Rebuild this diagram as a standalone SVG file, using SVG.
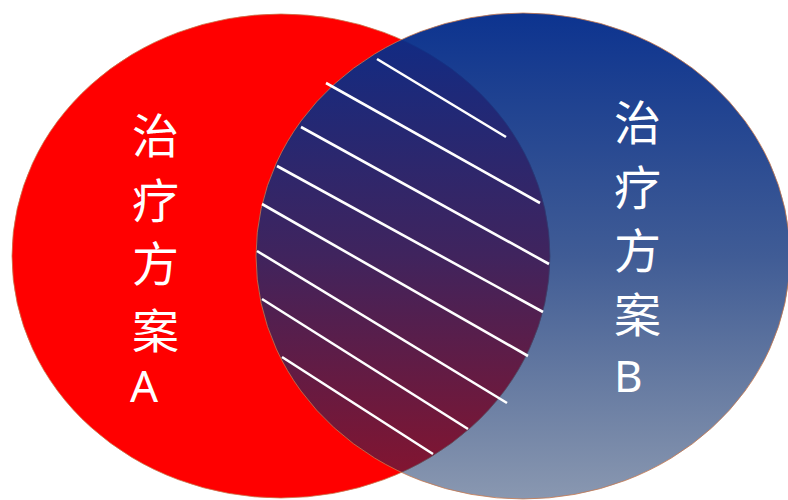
<svg xmlns="http://www.w3.org/2000/svg" width="788" height="500" viewBox="0 0 788 500">
  <style>
    .lbl { font-family: "Noto Sans CJK SC", "Noto Sans", sans-serif; font-size: 47px; fill: #ffffff; dominant-baseline: central; }
    .lat { font-family: "Noto Sans", "Noto Sans CJK SC", sans-serif; font-size: 44px; fill: #ffffff; }
    .hatch { stroke: #ffffff; stroke-width: 2.6; stroke-linecap: butt; }
    .edge { stroke: #c8784e; stroke-width: 0.8; }
  </style>
  <defs>
    <linearGradient id="gB" x1="0" y1="0" x2="0" y2="1">
      <stop offset="0" stop-color="#052d8c" stop-opacity="0.97"/>
      <stop offset="0.5" stop-color="#0a2e78" stop-opacity="0.78"/>
      <stop offset="1" stop-color="#0a285c" stop-opacity="0.48"/>
    </linearGradient>
  </defs>
  <rect width="788" height="500" fill="#ffffff"/>
  <g id="setA">
    <ellipse class="edge" cx="281" cy="256" rx="269" ry="242" fill="#ff0000"/>
  </g>
  <g id="setB">
    <ellipse class="edge" cx="523" cy="256" rx="267" ry="243" fill="url(#gB)"/>
  </g>
  <g id="hatching">
    <line class="hatch" x1="377" y1="59" x2="506" y2="137"/>
    <line class="hatch" x1="326" y1="83" x2="540" y2="203"/>
    <line class="hatch" x1="301" y1="127" x2="549" y2="264"/>
    <line class="hatch" x1="277" y1="166" x2="543" y2="312"/>
    <line class="hatch" x1="262" y1="204" x2="528" y2="356"/>
    <line class="hatch" x1="257" y1="251" x2="507" y2="403"/>
    <line class="hatch" x1="262" y1="299" x2="468" y2="429"/>
    <line class="hatch" x1="282" y1="357" x2="433" y2="454"/>
  </g>
  <g id="labelA">
    <text class="lbl" x="132" y="132">治</text>
    <text class="lbl" x="132" y="197">疗</text>
    <text class="lbl" x="132" y="260">方</text>
    <text class="lbl" x="132" y="327">案</text>
    <text class="lat" x="130" y="402">A</text>
  </g>
  <g id="labelB">
    <text class="lbl" x="614" y="119">治</text>
    <text class="lbl" x="614" y="184">疗</text>
    <text class="lbl" x="614" y="247">方</text>
    <text class="lbl" x="614" y="311">案</text>
    <text class="lat" x="614" y="392">B</text>
  </g>
</svg>
